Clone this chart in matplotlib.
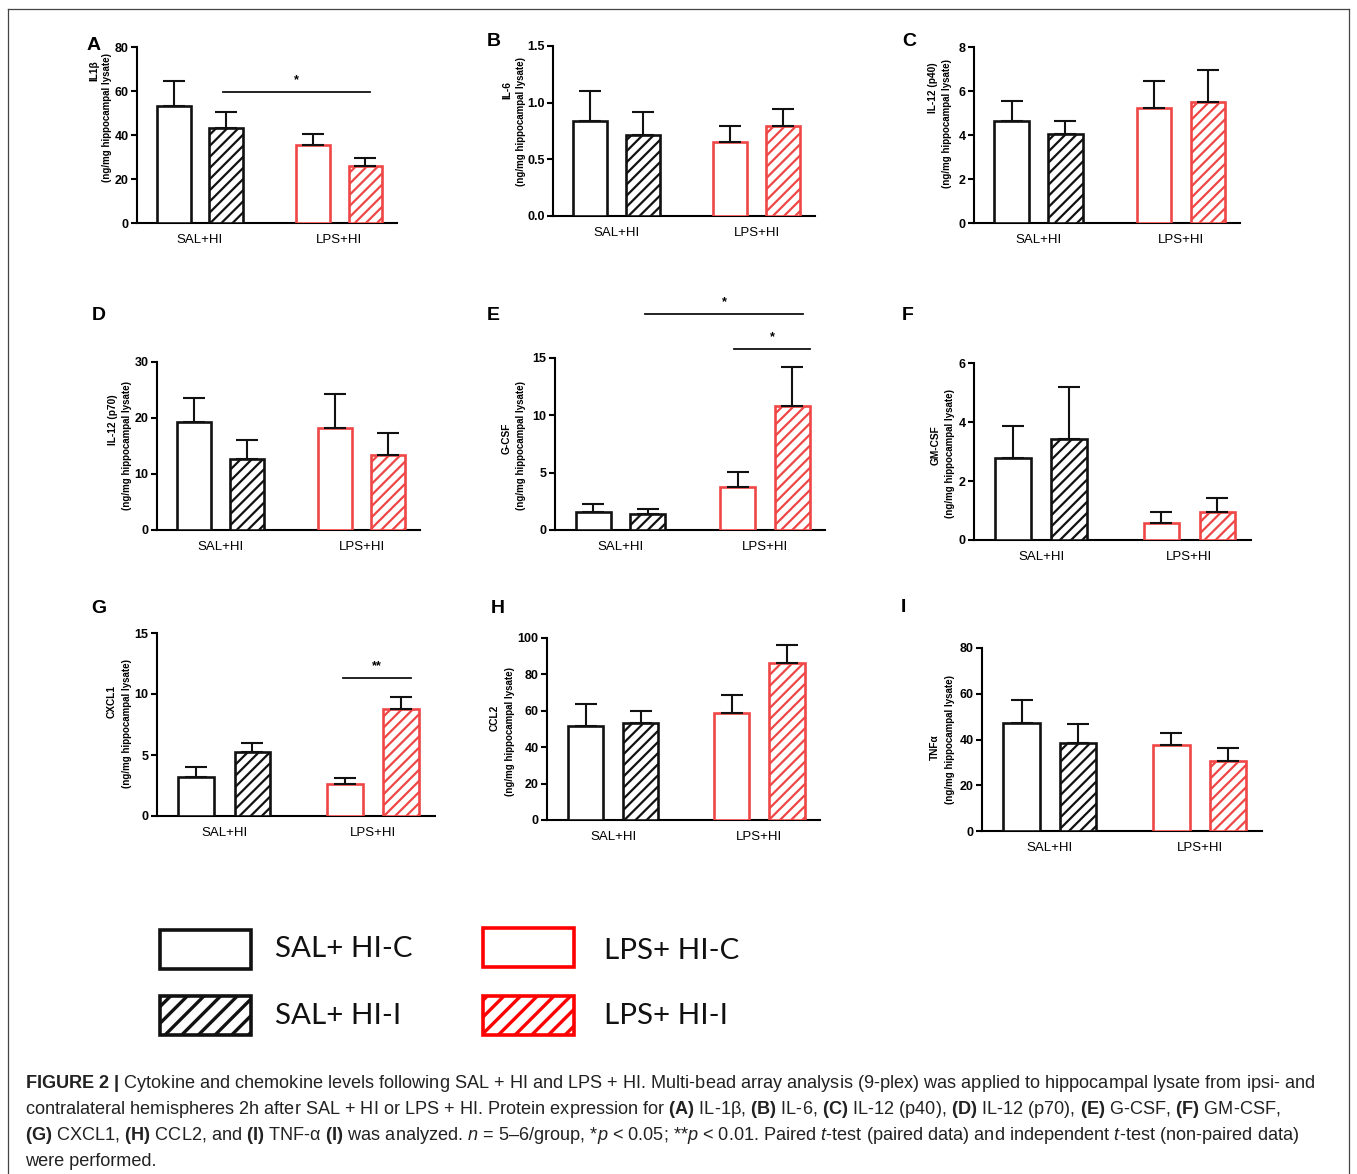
import numpy as np
import matplotlib
matplotlib.use('Agg')
import matplotlib.pyplot as plt
from matplotlib.patches import Rectangle
from matplotlib.lines import Line2D
from matplotlib import font_manager

W, H = 1357, 1174

available = {f.name for f in font_manager.fontManager.ttflist}
narrow = 'Liberation Sans Narrow' if 'Liberation Sans Narrow' in available else 'Liberation Sans'
legend_font = 'Lato' if 'Lato' in available else 'DejaVu Sans'

plt.rcParams.update({
    'font.family': ['Liberation Sans', 'DejaVu Sans'],
    'hatch.linewidth': 1.6,
    'mathtext.fontset': 'custom',
    'mathtext.rm': narrow,
    'mathtext.it': narrow + ':italic',
    'mathtext.bf': narrow + ':bold',
})

# ---------------- data ----------------
groups = ['SAL+HI', 'LPS+HI']
series = ['SAL+ HI-C', 'SAL+ HI-I', 'LPS+ HI-C', 'LPS+ HI-I']
letters = ['A', 'B', 'C', 'D', 'E', 'F', 'G', 'H', 'I']
analytes = ['IL1β', 'IL-6', 'IL-12 (p40)', 'IL-12 (p70)', 'G-CSF', 'GM-CSF',
            'CXCL1', 'CCL2', 'TNFα']
unit_label = '(ng/mg hippocampal lysate)'

# order of bars: SAL+HI-C, SAL+HI-I, LPS+HI-C, LPS+HI-I
il1b_mean = [53.1, 43.3, 35.5, 25.7]
il1b_sem = [11.5, 7.3, 4.8, 3.7]
il6_mean = [0.84, 0.715, 0.656, 0.794]
il6_sem = [0.262, 0.203, 0.138, 0.15]
il12p40_mean = [4.65, 4.03, 5.22, 5.52]
il12p40_sem = [0.89, 0.60, 1.22, 1.45]
il12p70_mean = [19.25, 12.6, 18.2, 13.4]
il12p70_sem = [4.25, 3.4, 6.1, 3.9]
gcsf_mean = [1.6, 1.39, 3.71, 10.79]
gcsf_sem = [0.66, 0.47, 1.31, 3.41]
gmcsf_mean = [2.79, 3.44, 0.59, 0.95]
gmcsf_sem = [1.09, 1.75, 0.36, 0.47]
cxcl1_mean = [3.22, 5.21, 2.59, 8.78]
cxcl1_sem = [0.76, 0.79, 0.49, 0.98]
ccl2_mean = [51.4, 53.2, 58.7, 86.2]
ccl2_sem = [12.6, 6.8, 9.9, 10.1]
tnfa_mean = [47.2, 38.5, 37.4, 30.5]
tnfa_sem = [9.9, 8.1, 5.4, 5.9]

means = [il1b_mean, il6_mean, il12p40_mean, il12p70_mean, gcsf_mean,
         gmcsf_mean, cxcl1_mean, ccl2_mean, tnfa_mean]
sems = [il1b_sem, il6_sem, il12p40_sem, il12p70_sem, gcsf_sem,
        gmcsf_sem, cxcl1_sem, ccl2_sem, tnfa_sem]
y_max = [80, 1.5, 8, 30, 15, 6, 15, 100, 80]
y_step = [20, 0.5, 2, 10, 5, 2, 5, 20, 20]

# significance brackets: panel -> (x from, x to, y, label)
significance = {
    0: [(0.93, 3.73, 59.5, '*')],
    4: [(0.95, 3.85, 18.8, '*'), (2.58, 3.98, 15.8, '*')],
    6: [(2.61, 3.83, 11.3, '**')],
}

caption_lines = [
    r"$\mathbf{FIGURE\ 2\ |}$ Cytokine and chemokine levels following SAL + HI and LPS + HI. Multi-bead array analysis (9-plex) was applied to hippocampal lysate from ipsi- and",
    r"contralateral hemispheres 2h after SAL + HI or LPS + HI. Protein expression for $\mathbf{(A)}$ IL-1β, $\mathbf{(B)}$ IL-6, $\mathbf{(C)}$ IL-12 (p40), $\mathbf{(D)}$ IL-12 (p70), $\mathbf{(E)}$ G-CSF, $\mathbf{(F)}$ GM-CSF,",
    r"$\mathbf{(G)}$ CXCL1, $\mathbf{(H)}$ CCL2, and $\mathbf{(I)}$ TNF-α $\mathbf{(I)}$ was analyzed. $\mathit{n}$ = 5–6/group, *$\mathit{p}$ < 0.05; **$\mathit{p}$ < 0.01. Paired $\mathit{t}$-test (paired data) and independent $\mathit{t}$-test (non-paired data)",
    "were performed.",
]

# ---------------- layout (pixels) ----------------
axes_px = [(137, 47, 397, 223), (553, 46, 815, 216), (974, 47, 1240, 223),
           (157, 362, 420, 530), (555, 358, 825, 530), (974, 363, 1251, 540),
           (157, 633, 435, 816), (547, 638, 820, 820), (982, 648, 1262, 831)]
letter_px = [(87, 50), (487, 46), (902, 46), (92, 320), (487, 320), (902, 320),
             (91, 613), (491, 613), (901, 612)]
ylab1_px = [(94, 71), (507, 90), (933, 88), (113, 420), (507, 438), (936, 445),
            (112, 702), (495, 718), (935, 747)]
ylab2_px = [(107, 117), (521, 122), (947, 123), (127, 445), (521, 446), (950, 453),
            (127, 723), (510, 731), (950, 739)]
legend_box_px = [(160, 930, 251, 969), (160, 996, 251, 1035),
                 (483, 928, 574, 967), (483, 996, 574, 1035)]
legend_text_px = [(275, 949), (275, 1016), (604, 951), (604, 1016)]
caption_y = [1084, 1110, 1136, 1161]

xpos = [0, 1, 2.65, 3.65]
edge_colors = ['#111111', '#111111', '#EF4646', '#EF4646']
legend_colors = ['#111111', '#111111', '#FF0000', '#FF0000']
bar_hatches = ['', '///', '', '///']
legend_hatches = ['', '//', '', '//']


def fx(x):
    return x / W


def fy(y):
    return 1 - y / H


fig = plt.figure(figsize=(W / 100, H / 100), dpi=100)

for i in range(9):
    l, t, r, b = axes_px[i]
    ax = fig.add_axes([fx(l), fy(b), (r - l) / W, (b - t) / H])
    for j in range(4):
        ax.bar(xpos[j], means[i][j], width=0.64, facecolor='white',
               edgecolor=edge_colors[j], hatch=bar_hatches[j], linewidth=1.9, zorder=3)
    ax.errorbar(xpos, means[i], yerr=[np.zeros(4), sems[i]], fmt='none',
                ecolor='#111111', elinewidth=1.5, capsize=8, capthick=1.5, zorder=4)
    ax.set_xlim(-0.7, 4.25)
    ax.set_ylim(0, y_max[i])
    ticks = np.arange(0, y_max[i] + y_step[i] / 2, y_step[i])
    ax.set_yticks(ticks)
    if y_step[i] < 1:
        labels = [f'{v:.1f}' for v in ticks]
    else:
        labels = [f'{v:g}' for v in ticks]
    ax.set_yticklabels(labels, fontweight='bold', fontsize=9)
    ax.set_xticks([(xpos[0] + xpos[1]) / 2, (xpos[2] + xpos[3]) / 2])
    ax.set_xticklabels(groups, fontsize=9.5)
    ax.tick_params(axis='x', length=0, pad=8)
    ax.tick_params(axis='y', length=4, width=1.5, pad=2)
    for s in ['top', 'right']:
        ax.spines[s].set_visible(False)
    for s in ['left', 'bottom']:
        ax.spines[s].set_linewidth(1.5)
    ax.patch.set_alpha(0)

    for x0, x1, yv, lab in significance.get(i, []):
        ax.plot([x0, x1], [yv, yv], color='#111111', lw=1.3, clip_on=False)
        ax.text((x0 + x1) / 2, yv + y_max[i] * 0.035, lab, ha='center', va='bottom',
                fontsize=9, fontweight='bold')

    lx, ly = letter_px[i]
    fig.text(fx(lx), fy(ly), letters[i], fontsize=14, fontweight='bold',
             ha='left', va='baseline')
    x1p, y1p = ylab1_px[i]
    fig.text(fx(x1p), fy(y1p), analytes[i], rotation=90, fontsize=7.3,
             fontweight='bold', ha='center', va='center')
    x2p, y2p = ylab2_px[i]
    fig.text(fx(x2p), fy(y2p), unit_label, rotation=90, fontsize=7,
             fontweight='bold', ha='center', va='center')

# legend
legend_texts = []
with plt.rc_context({'hatch.linewidth': 2.4}):
    for k in range(4):
        l, t, r, b = legend_box_px[k]
        rect = Rectangle((fx(l), fy(b)), (r - l) / W, (b - t) / H,
                         transform=fig.transFigure, facecolor='white',
                         edgecolor=legend_colors[k], hatch=legend_hatches[k], lw=2.6)
        fig.add_artist(rect)
for k in range(4):
    tx, ty = legend_text_px[k]
    legend_texts.append(fig.text(fx(tx), fy(ty), series[k], fontsize=26,
                                 family=legend_font, ha='left', va='center',
                                 color='#111111'))

# caption
caption_texts = []
for line, yy in zip(caption_lines, caption_y):
    caption_texts.append(fig.text(fx(25), fy(yy), line, fontsize=12,
                                  family=narrow, ha='left', va='center',
                                  color='#222222'))

# outer frame
for xs, ys in [([8, 8], [9, H + 5]), ([1349, 1349], [9, H + 5]), ([8, 1349], [9, 9])]:
    fig.add_artist(Line2D([fx(x) for x in xs], [fy(y) for y in ys],
                          transform=fig.transFigure, color='#444444', lw=0.9))

# fit caption and legend text widths to the reference
fig.canvas.draw()
renderer = fig.canvas.get_renderer()
w_cap = caption_texts[0].get_window_extent(renderer).width
size_cap = 12 * 1286 / w_cap
for t in caption_texts:
    t.set_fontsize(size_cap)
w_leg = legend_texts[0].get_window_extent(renderer).width
size_leg = 26 * 137 / w_leg
for t in legend_texts:
    t.set_fontsize(size_leg)

fig.savefig('out.png', dpi=100, facecolor='white')
